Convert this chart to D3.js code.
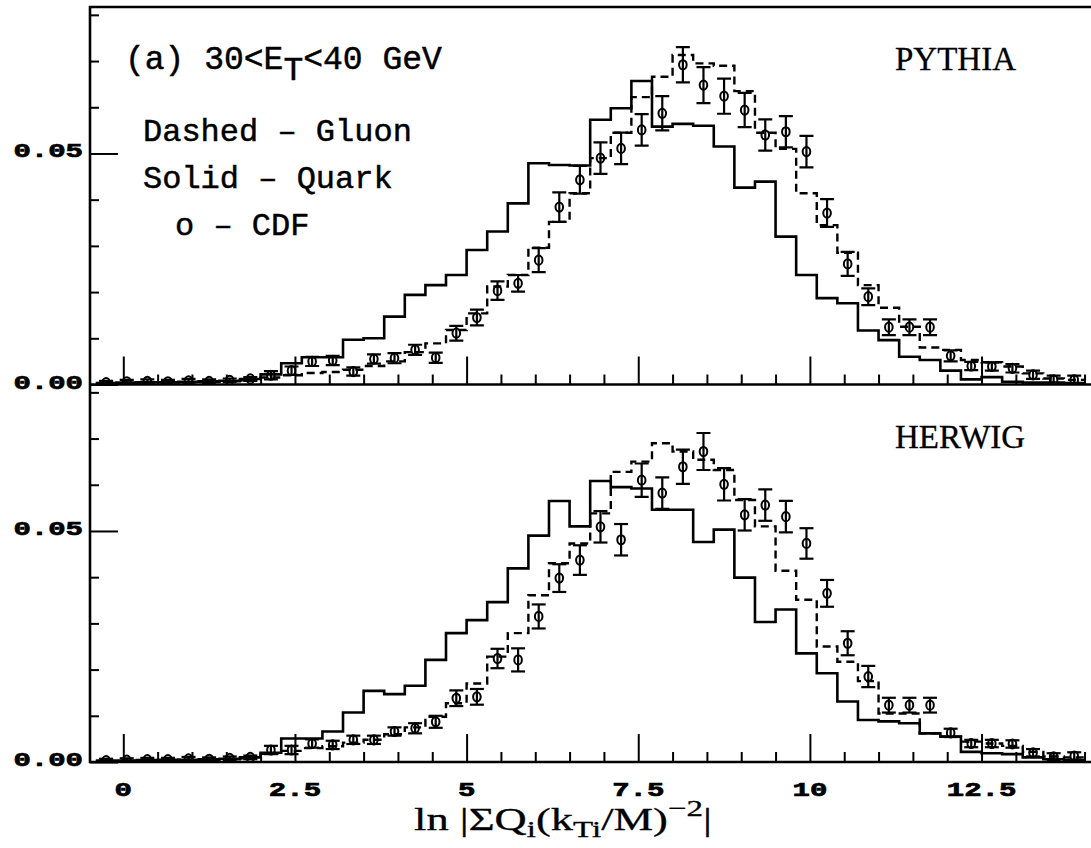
<!DOCTYPE html>
<html>
<head>
<meta charset="utf-8">
<script src="https://cdn.jsdelivr.net/npm/d3@7/dist/d3.min.js"></script>
<style>
  body { margin: 0; background: #fff; }
</style>
</head>
<body>
<div id="chart"></div>
<script>
// bin centres of the histograms (0.3 wide bins)
const binCenters = [-0.25, 0.05, 0.35, 0.65, 0.95, 1.25, 1.55, 1.85, 2.15, 2.45, 2.75, 3.05,
  3.35, 3.65, 3.95, 4.25, 4.55, 4.85, 5.15, 5.45, 5.75, 6.05, 6.35, 6.65,
  6.95, 7.25, 7.55, 7.85, 8.15, 8.45, 8.75, 9.05, 9.35, 9.65, 9.95, 10.25,
  10.55, 10.85, 11.15, 11.45, 11.75, 12.05, 12.35, 12.65, 12.95, 13.25, 13.55, 13.85]
const binWidth = 0.3

// (a) PYTHIA panel
const pythiaQuark = [0.0003, 0.0004, 0.0005, 0.0005, 0.0006, 0.0007, 0.0008, 0.0012, 0.0022, 0.0046, 0.0059, 0.0059,
  0.0097, 0.0100, 0.0147, 0.0194, 0.0215, 0.0237, 0.0291, 0.0331, 0.0392, 0.0479, 0.0475, 0.0474,
  0.0573, 0.0598, 0.0657, 0.0558, 0.0564, 0.0560, 0.0515, 0.0426, 0.0439, 0.0320, 0.0237, 0.0187,
  0.0176, 0.0117, 0.0096, 0.0060, 0.0053, 0.0030, 0.0011, 0.0016, 0.0006, 0.0004, 0.0004, 0.0003]
const pythiaGluon = [0.0003, 0.0004, 0.0004, 0.0005, 0.0005, 0.0006, 0.0007, 0.0009, 0.0015, 0.0020, 0.0025, 0.0027,
  0.0032, 0.0040, 0.0050, 0.0070, 0.0089, 0.0118, 0.0154, 0.0212, 0.0237, 0.0296, 0.0352, 0.0414,
  0.0490, 0.0545, 0.0622, 0.0666, 0.0713, 0.0695, 0.0690, 0.0635, 0.0545, 0.0510, 0.0414, 0.0345,
  0.0285, 0.0215, 0.0166, 0.0125, 0.0080, 0.0075, 0.0053, 0.0048, 0.0039, 0.0024, 0.0013, 0.0010]
const pythiaCdf = [0.0004, 0.0006, 0.0007, 0.0006, 0.0008, 0.0007, 0.0009, 0.0012, 0.0020, 0.0030, 0.0050, 0.0052,
  0.0028, 0.0055, 0.0057, 0.0075, 0.0058, 0.0111, 0.0145, 0.0203, 0.0219, 0.0269, 0.0384, 0.0443,
  0.0490, 0.0511, 0.0551, 0.0587, 0.0692, 0.0648, 0.0624, 0.0594, 0.0540, 0.0547, 0.0504, 0.0371,
  0.0261, 0.0190, 0.0124, 0.0124, 0.0124, 0.0062, 0.0040, 0.0039, 0.0035, 0.0021, 0.0010, 0.0010]
const pythiaErr = [0.0004, 0.0004, 0.0004, 0.0004, 0.0004, 0.0004, 0.0004, 0.0004, 0.0009, 0.0009, 0.0010, 0.0010,
  0.0009, 0.0010, 0.0011, 0.0011, 0.0011, 0.0016, 0.0017, 0.0020, 0.0018, 0.0026, 0.0032, 0.0030,
  0.0034, 0.0034, 0.0034, 0.0037, 0.0038, 0.0039, 0.0038, 0.0037, 0.0034, 0.0034, 0.0034, 0.0030,
  0.0026, 0.0018, 0.0017, 0.0017, 0.0017, 0.0012, 0.0009, 0.0009, 0.0009, 0.0009, 0.0009, 0.0009]

// HERWIG panel
const herwigQuark = [0.0003, 0.0003, 0.0004, 0.0005, 0.0005, 0.0006, 0.0007, 0.0010, 0.0020, 0.0051, 0.0051, 0.0066,
  0.0107, 0.0154, 0.0147, 0.0165, 0.0221, 0.0279, 0.0307, 0.0346, 0.0419, 0.0490, 0.0565, 0.0510,
  0.0608, 0.0595, 0.0592, 0.0546, 0.0546, 0.0476, 0.0503, 0.0399, 0.0303, 0.0330, 0.0235, 0.0192,
  0.0131, 0.0091, 0.0088, 0.0084, 0.0062, 0.0055, 0.0022, 0.0019, 0.0017, 0.0010, 0.0006, 0.0004]
const herwigGluon = [0.0002, 0.0003, 0.0004, 0.0004, 0.0005, 0.0005, 0.0006, 0.0008, 0.0018, 0.0024, 0.0030, 0.0034,
  0.0042, 0.0048, 0.0060, 0.0075, 0.0098, 0.0127, 0.0170, 0.0228, 0.0279, 0.0361, 0.0430, 0.0473,
  0.0538, 0.0628, 0.0650, 0.0690, 0.0672, 0.0654, 0.0632, 0.0567, 0.0510, 0.0414, 0.0351, 0.0250,
  0.0217, 0.0175, 0.0105, 0.0105, 0.0062, 0.0055, 0.0044, 0.0040, 0.0035, 0.0022, 0.0012, 0.0010]
const herwigCdf = [0.0003, 0.0004, 0.0005, 0.0005, 0.0007, 0.0006, 0.0008, 0.0010, 0.0026, 0.0026, 0.0040, 0.0037,
  0.0048, 0.0048, 0.0066, 0.0073, 0.0087, 0.0138, 0.0141, 0.0224, 0.0221, 0.0315, 0.0398, 0.0437,
  0.0509, 0.0481, 0.0610, 0.0582, 0.0639, 0.0672, 0.0601, 0.0535, 0.0556, 0.0531, 0.0473, 0.0365,
  0.0257, 0.0185, 0.0123, 0.0123, 0.0123, 0.0063, 0.0040, 0.0040, 0.0039, 0.0020, 0.0011, 0.0013]
const herwigErr = [0.0004, 0.0004, 0.0004, 0.0004, 0.0004, 0.0004, 0.0004, 0.0004, 0.0009, 0.0009, 0.0009, 0.0009,
  0.0009, 0.0009, 0.0009, 0.0011, 0.0013, 0.0017, 0.0017, 0.0021, 0.0025, 0.0026, 0.0030, 0.0032,
  0.0034, 0.0034, 0.0036, 0.0034, 0.0037, 0.0040, 0.0035, 0.0034, 0.0034, 0.0034, 0.0033, 0.0029,
  0.0026, 0.0023, 0.0016, 0.0016, 0.0016, 0.0009, 0.0008, 0.0008, 0.0008, 0.0008, 0.0008, 0.0008]

// axes
const xMajorTicks = [0, 2.5, 5, 7.5, 10, 12.5]
const xTickLabels = ['0', '2.5', '5', '7.5', '10', '12.5']
const xMinorTicks = [0.5, 1, 1.5, 2, 3, 3.5, 4, 4.5, 5.5, 6, 6.5, 7, 8, 8.5, 9, 9.5, 10.5, 11, 11.5, 12, 13, 13.5, 14]
const yMajorTicks = [0, 0.05]
const yTickLabels = ['0.00', '0.05']
const yMinorTicks = [0.01, 0.02, 0.03, 0.04, 0.06, 0.07, 0.08]

const W = 1091, H = 848

var svg = d3.select('#chart').append('svg')
  .attr('width', W).attr('height', H)
  .style('background', '#fff')

var x = d3.scaleLinear().domain([-0.485, 14.1]).range([90, 1091.4])

var panels = [
  { id: 'p1', name: 'PYTHIA', quark: pythiaQuark, gluon: pythiaGluon, cdf: pythiaCdf, err: pythiaErr, top: 7, bottom: 384.5, nameY: 70 },
  { id: 'p2', name: 'HERWIG', quark: herwigQuark, gluon: herwigGluon, cdf: herwigCdf, err: herwigErr, top: 384.5, bottom: 762, nameY: 448 }
]

function stepPoints(vals) {
  let pts = vals.map((v, i) => [binCenters[i] - binWidth / 2, v])
  pts.push([binCenters[vals.length - 1] + binWidth / 2, vals[vals.length - 1]])
  return pts
}

// bold, wide tick-label style of the old plotting package
function tickLabel(sel) {
  sel.style('font-family', 'Liberation Mono')
    .style('font-weight', 'bold')
    .style('font-size', '20px')
    .attr('stroke', '#000')
    .attr('stroke-width', 0.7)
}

panels.forEach(function (p) {
  var y = d3.scaleLinear().domain([0, 0.0817]).range([p.bottom, p.top])

  svg.append('clipPath').attr('id', 'clip-' + p.id)
    .append('rect')
    .attr('x', 90).attr('y', p.top)
    .attr('width', W - 90).attr('height', p.bottom - p.top)

  var g = svg.append('g').attr('clip-path', 'url(#clip-' + p.id + ')')

  var line = d3.line()
    .x(d => x(d[0]))
    .y(d => y(d[1]))
    .curve(d3.curveStepAfter)

  // quark : solid
  g.append('path')
    .datum(stepPoints(p.quark))
    .attr('fill', 'none')
    .attr('stroke', '#000')
    .attr('stroke-width', 2.6)
    .attr('d', line)

  // gluon : dashed
  g.append('path')
    .datum(stepPoints(p.gluon))
    .attr('fill', 'none')
    .attr('stroke', '#000')
    .attr('stroke-width', 2.4)
    .attr('stroke-dasharray', '8,5')
    .attr('d', line)

  // CDF points with error bars
  var pts = g.selectAll('g.pt')
    .data(p.cdf.map((v, i) => ({ c: binCenters[i], v: v, e: p.err[i] })))
    .join('g').attr('class', 'pt')

  pts.append('line')
    .attr('x1', d => x(d.c)).attr('x2', d => x(d.c))
    .attr('y1', d => y(d.v - d.e)).attr('y2', d => y(d.v + d.e))
    .attr('stroke', '#000').attr('stroke-width', 2.2)
  pts.append('line')
    .attr('x1', d => x(d.c) - 7).attr('x2', d => x(d.c) + 7)
    .attr('y1', d => y(d.v + d.e)).attr('y2', d => y(d.v + d.e))
    .attr('stroke', '#000').attr('stroke-width', 2.2)
  pts.append('line')
    .attr('x1', d => x(d.c) - 7).attr('x2', d => x(d.c) + 7)
    .attr('y1', d => y(d.v - d.e)).attr('y2', d => y(d.v - d.e))
    .attr('stroke', '#000').attr('stroke-width', 2.2)
  pts.append('ellipse')
    .attr('cx', d => x(d.c)).attr('cy', d => y(d.v))
    .attr('rx', 3.8).attr('ry', 4.6)
    .attr('fill', 'none')
    .attr('stroke', '#000').attr('stroke-width', 2)

  // x ticks at the bottom of the panel, pointing in
  svg.append('g')
    .attr('transform', 'translate(0,' + p.bottom + ')')
    .call(d3.axisTop(x).tickValues(xMinorTicks).tickSize(10).tickFormat(''))
    .call(a => a.select('.domain').remove())
    .selectAll('line').attr('stroke-width', 2)
  svg.append('g')
    .attr('transform', 'translate(0,' + p.bottom + ')')
    .call(d3.axisTop(x).tickValues(xMajorTicks).tickSize(28).tickFormat(''))
    .call(a => a.select('.domain').remove())
    .selectAll('line').attr('stroke-width', 2)

  // y ticks from the left axis
  svg.append('g')
    .attr('transform', 'translate(90,0)')
    .call(d3.axisRight(y).tickValues(yMinorTicks).tickSize(9).tickFormat(''))
    .call(a => a.select('.domain').remove())
    .selectAll('line').attr('stroke-width', 2)
  svg.append('g')
    .attr('transform', 'translate(90,0)')
    .call(d3.axisRight(y).tickValues(yMajorTicks).tickSize(28).tickFormat(''))
    .call(a => a.select('.domain').remove())
    .selectAll('line').attr('stroke-width', 2)

  // y tick labels
  svg.selectAll(null)
    .data(yMajorTicks)
    .join('text')
    .attr('transform', (d) => 'translate(83,' + (y(d) + 4) + ') scale(1.45,1)')
    .attr('text-anchor', 'end')
    .call(tickLabel)
    .text((d, i) => yTickLabels[i])

  // generator name
  svg.append('text')
    .attr('x', 895).attr('y', p.nameY)
    .style('font-family', 'Liberation Serif')
    .style('font-size', '33px')
    .attr('stroke', '#000').attr('stroke-width', 0.3)
    .text(p.name)
})

// frame
var frame = svg.append('g').attr('stroke', '#000').attr('stroke-width', 2.6)
frame.append('line').attr('x1', 90).attr('x2', 90).attr('y1', 6).attr('y2', 763)
frame.append('line').attr('x1', 89).attr('x2', W).attr('y1', 7).attr('y2', 7)
frame.append('line').attr('x1', 89).attr('x2', W).attr('y1', 384.5).attr('y2', 384.5)
frame.append('line').attr('x1', 89).attr('x2', W).attr('y1', 762).attr('y2', 762)

// x tick labels
svg.selectAll(null)
  .data(xMajorTicks)
  .join('text')
  .attr('transform', (d) => 'translate(' + x(d) + ',796) scale(1.45,1)')
  .attr('text-anchor', 'middle')
  .call(tickLabel)
  .text((d, i) => xTickLabels[i])

// x axis title, stretched to the width it has in the original
var title = svg.append('text')
  .attr('text-anchor', 'middle')
  .style('font-family', 'Liberation Serif')
  .style('font-size', '31px')
  .attr('stroke', '#000').attr('stroke-width', 0.3)
title.append('tspan').text('ln |ΣQ')
title.append('tspan').attr('dy', 7).style('font-size', '23px').text('i')
title.append('tspan').attr('dy', -7).text('(k')
title.append('tspan').attr('dy', 7).style('font-size', '23px').text('Ti')
title.append('tspan').attr('dy', -7).text('/M)')
title.append('tspan').attr('dy', -14).style('font-size', '23px').text('−2')
title.append('tspan').attr('dy', 14).text('|')
var tw = title.node().getBBox().width
title.attr('transform', 'translate(563,830) scale(' + (298 / tw) + ',1)')

// top left labels
var mono = 'Liberation Mono'
var head = svg.append('text')
  .attr('x', 125).attr('y', 69)
  .style('font-family', mono).style('font-size', '33px')
  .attr('stroke', '#000').attr('stroke-width', 0.5)
head.append('tspan').text('(a) 30<E')
head.append('tspan').attr('dy', 11).text('T')
head.append('tspan').attr('dy', -11).text('<40 GeV')

var legendLines = ['Dashed – Gluon', 'Solid – Quark', 'o – CDF']
var legendX = [143, 143, 175]
var legendY = [141, 188, 235]
svg.selectAll(null)
  .data(legendLines)
  .join('text')
  .attr('x', (d, i) => legendX[i])
  .attr('y', (d, i) => legendY[i])
  .style('font-family', mono)
  .style('font-size', '32px')
  .attr('stroke', '#000').attr('stroke-width', 0.5)
  .text(d => d)
</script>
</body>
</html>
